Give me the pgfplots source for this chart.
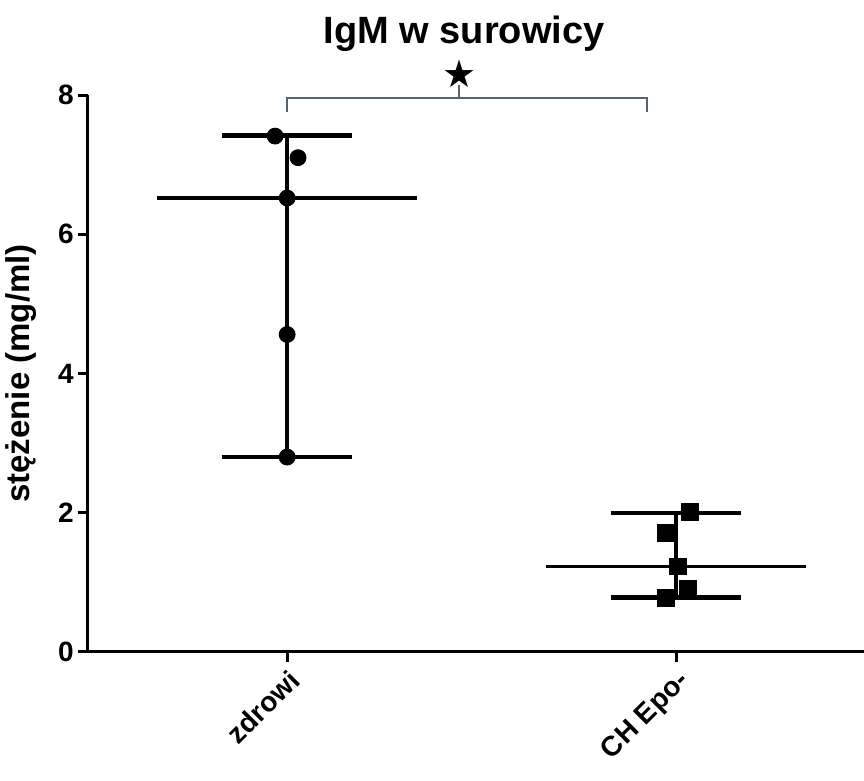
\documentclass[border=0pt]{standalone}
\usepackage{pgfplots}
\pgfplotsset{compat=1.18}
\usepackage{fontspec}
\setmainfont{Liberation Sans}
\newfontfamily\symfont{DejaVu Sans}
\definecolor{brk}{RGB}{85,100,110}
\begin{document}
\begin{tikzpicture}
\begin{axis}[
  at={(0,0)}, anchor=south west,
  scale only axis, width=388pt, height=278.5pt,
  xmin=-0.512, xmax=1.483, ymin=0, ymax=8,
  axis x line*=bottom, axis y line*=left,
  axis line style={line width=1.5pt},
  xtick={0,1}, xticklabels={zdrowi,CH Epo-},
  ytick={0,2,4,6,8},
  tick align=outside, major tick length=5pt,
  tick style={line width=1.5pt, black},
  /pgf/number format/assume math mode=true,
  ticklabel style={font=\bfseries\fontsize{14}{16}\selectfont},
  yticklabel style={inner sep=2pt},
  xticklabel style={rotate=45, anchor=north east, inner sep=2pt},
  ylabel={stężenie (mg/ml)},
  ylabel style={font=\bfseries\fontsize{16.5}{18}\selectfont, at={(ticklabel cs:0.5)}, anchor=south, yshift=5pt},
  clip=false,
]
% zdrowi: range and median
\addplot[black, line width=2.2pt] coordinates {(0,2.80) (0,7.42)};
\addplot[black, line width=2.2pt] coordinates {(-0.168,7.42) (0.168,7.42)};
\addplot[black, line width=2.2pt] coordinates {(-0.168,2.80) (0.168,2.80)};
\addplot[black, line width=1.6pt] coordinates {(-0.334,6.52) (0.334,6.52)};
\addplot[only marks, mark=*, mark size=4pt, black] coordinates {
  (-0.031,7.41) (0.028,7.10) (0,6.52) (0,4.56) (0,2.80)};
% CH Epo-
\addplot[black, line width=2.2pt] coordinates {(1,0.78) (1,2.00)};
\addplot[black, line width=2.2pt] coordinates {(0.832,2.00) (1.168,2.00)};
\addplot[black, line width=2.2pt] coordinates {(0.832,0.78) (1.168,0.78)};
\addplot[black, line width=1.6pt] coordinates {(0.666,1.23) (1.334,1.23)};
\addplot[only marks, mark=square*, mark size=4.2pt, black] coordinates {
  (1.036,2.01) (0.974,1.71) (1.005,1.23) (1.031,0.91) (0.974,0.78)};
% significance bracket
\draw[brk, line width=1pt] (axis cs:0,7.76) -- (axis cs:0,7.96) -- (axis cs:0.925,7.96) -- (axis cs:0.925,7.76);
\draw[brk, line width=1pt] (axis cs:0.442,7.96) -- (axis cs:0.442,8.15);
\node[font=\symfont\fontsize{19}{19}\selectfont, inner sep=0pt] at (axis cs:0.442,8.31) {★};
\node[font=\bfseries\fontsize{19}{21}\selectfont, anchor=base] at (axis cs:0.455,8.74) {IgM w surowicy};
\end{axis}
\pgfresetboundingbox
\path (-44pt,-64.5pt) rectangle (388pt,326pt);
\end{tikzpicture}
\end{document}
